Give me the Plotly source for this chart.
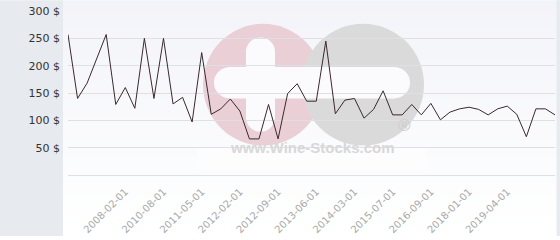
import plotly.graph_objects as go

# ---- data ----
prices = [257, 140, 168, 212, 257, 129, 160, 122, 250, 140,
          250, 130, 142, 97, 224, 111, 121, 139, 117, 66,
          66, 129, 66, 149, 167, 135, 135, 245, 112, 137,
          140, 104, 120, 154, 110, 110, 129, 110, 131, 101,
          115, 121, 124, 120, 110, 121, 126, 111, 70, 121,
          121, 110]
x_index = list(range(len(prices)))
tick_positions = [6, 10, 14, 18, 22, 26, 30, 34, 38, 42, 46]
tick_labels = ["2008-02-01", "2010-08-01", "2011-05-01", "2012-02-01",
               "2012-09-01", "2013-06-01", "2014-03-01", "2015-07-01",
               "2016-09-01", "2018-01-01", "2019-04-01"]
y_ticks = [0, 50, 100, 150, 200, 250, 300]
y_labels = ["", "50 $", "100 $", "150 $", "200 $", "250 $", "300 $"]

W, H = 560, 240
L, R, T, B = 68, 5, 11, 62
PW, PH = W - L - R, H - T - B


def px(xp):
    return (xp - L) / PW


def py(yp):
    return (H - B - yp) / PH


def rect(x0, x1, y0, y1, color):
    return dict(type="rect", xref="paper", yref="paper", layer="below",
                x0=px(x0), x1=px(x1), y0=py(y1), y1=py(y0),
                fillcolor=color, line=dict(width=0))


def circ(x0, x1, y0, y1, color):
    return dict(type="circle", xref="paper", yref="paper", layer="below",
                x0=px(x0), x1=px(x1), y0=py(y1), y1=py(y0),
                fillcolor=color, line=dict(width=0))


shapes = []
# gradient background bands
n = 24
for k in range(n):
    f = k / (n - 1)
    c = tuple(int(round(a + (255 - a) * f)) for a in (243, 244, 249))
    shapes.append(rect(63, 557, k * H / n, (k + 1) * H / n + 0.5,
                       "rgb(%d,%d,%d)" % c))
# left panel and right edge
shapes.append(rect(0, 63, 0, 240, "#e7eaee"))
shapes.append(rect(556.5, 560, 0, 240, "#e7eaee"))
# watermark
WH = "#fbfbfd"
shapes.append(rect(197, 427, 150, 173, "#fdfdfe"))
shapes.append(circ(203, 323, 24, 148, "#ead0d6"))
shapes.append(circ(302, 424, 24, 148, "#dadada"))
# horizontal bar (rounded ends)
shapes.append(rect(230, 394, 68, 100, WH))
shapes.append(circ(214, 246, 68, 100, WH))
shapes.append(circ(378, 410, 68, 100, WH))
# vertical bar of the plus (rounded ends)
shapes.append(rect(246, 275, 52, 120, WH))
shapes.append(circ(246, 275, 38, 67, WH))
shapes.append(circ(246, 275, 105, 134, WH))

annotations = [
    dict(text="<b>www.Wine-Stocks.com</b>", xref="paper", yref="paper",
         x=px(312), y=py(161), showarrow=False,
         font=dict(family="Liberation Sans, Arial", size=15, color="#d8d8d8")),
    dict(text="<b>®</b>", xref="paper", yref="paper",
         x=px(413), y=py(139), showarrow=False,
         font=dict(family="Liberation Sans, Arial", size=17, color="#cfcfcf")),
]

fig = go.Figure()
fig.add_trace(go.Scatter(x=x_index, y=prices, mode="lines",
                         line=dict(color="#3a2830", width=1),
                         hoverinfo="skip"))

fig.update_layout(
    width=W, height=H,
    margin=dict(l=L, r=R, t=T, b=B, pad=0),
    paper_bgcolor="white",
    plot_bgcolor="rgba(0,0,0,0)",
    showlegend=False,
    shapes=shapes,
    annotations=annotations,
    xaxis=dict(range=[0, len(prices) - 1], tickmode="array",
               tickvals=tick_positions, ticktext=tick_labels,
               tickangle=-45, showgrid=False, zeroline=False,
               showline=False, ticks="",
               tickfont=dict(family="DejaVu Sans", size=10, color="#a8a8a8"),
               ticklabelstandoff=8),
    yaxis=dict(range=[0, 300], tickmode="array", tickvals=y_ticks,
               ticktext=y_labels, showgrid=True, gridcolor="#dfe0e6",
               gridwidth=1, zeroline=True, zerolinecolor="#dfe0e6",
               zerolinewidth=1, showline=False, ticks="",
               tickfont=dict(family="DejaVu Sans", size=11, color="#333333"),
               ticklabelstandoff=7),
)

fig.write_html("out.html")
